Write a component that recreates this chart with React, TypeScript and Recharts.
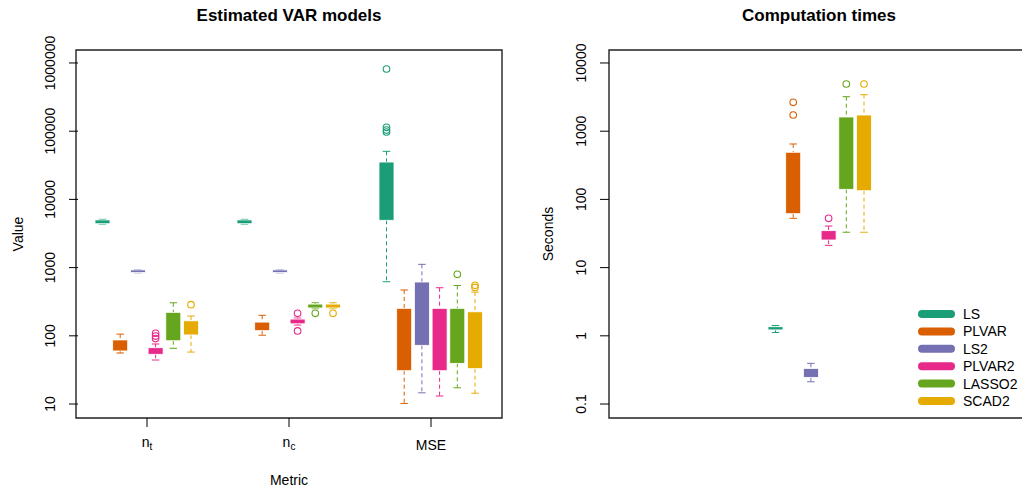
import { BarChart, Bar, XAxis, YAxis, ReferenceArea, Legend } from 'recharts';

const models = ['LS', 'PLVAR', 'LS2', 'PLVAR2', 'LASSO2', 'SCAD2'];
const colors = ['#1B9E77', '#D95F02', '#7570B3', '#E7298A', '#66A61E', '#E6AB02'];
const metrics = ['n_t', 'n_c', 'MSE'];

// [lower whisker, q1, q3, upper whisker] per metric
const lsStats = [[4350, 4400, 5000, 5100], [4350, 4400, 5000, 5100], [621, 4940, 35300, 50700]];
const plvarStats = [[56, 60, 87, 106], [102, 119, 159, 200], [10.2, 30.8, 253, 470]];
const ls2Stats = [[840, 845, 925, 930], [840, 845, 925, 930], [14.6, 72.6, 615, 1117]];
const plvar2Stats = [[44.2, 53.6, 66.9, 75.9], [144, 150, 176, 182], [13.1, 30.8, 253, 507]];
const lasso2Stats = [[65.6, 84.7, 221, 305], [250, 256, 292, 305], [17.3, 39.5, 253, 547]];
const scad2Stats = [[57.8, 103, 166, 195], [250, 256, 292, 305], [14.4, 33, 225, 438]];

const lsOut = [[], [], [816000, 114000, 104000, 97300]];
const plvarOut = [[], [], []];
const ls2Out = [[], [], []];
const plvar2Out = [[109, 99, 91], [214, 118], []];
const lasso2Out = [[], [214], [798]];
const scad2Out = [[286], [214], [550, 513]];

// computation times, one entry per model
const timeStats = [
  [1.12, 1.22, 1.36, 1.42],
  [52.8, 61.7, 491, 649],
  [0.212, 0.246, 0.333, 0.395],
  [21.2, 25.4, 34.8, 40.7],
  [33, 140.6, 1615, 3206],
  [33, 134, 1727, 3430],
];
const timeOut = [[], [2650, 1727], [], [52.8], [4920], [4920]];

const valueTicks = [10, 100, 1000, 10000, 100000, 1000000];
const timeTicks = [0.1, 1, 10, 100, 1000, 10000];
const valueDomain = [6.24, 1550000];
const timeDomain = [0.0624, 15500];

const allStats = [lsStats, plvarStats, ls2Stats, plvar2Stats, lasso2Stats, scad2Stats];
const allOut = [lsOut, plvarOut, ls2Out, plvar2Out, lasso2Out, scad2Out];

const toBox = (s: number[], out: number[]) => ({ lo: s[0], q1: s[1], q3: s[2], hi: s[3], out });

const valueRows = metrics.map((m, i) => {
  const row: any = { metric: m };
  models.forEach((name, j) => {
    row[name] = toBox(allStats[j][i], allOut[j][i]);
  });
  return row;
});

const timeRow: any = { metric: 'time' };
models.forEach((name, j) => {
  timeRow[name] = toBox(timeStats[j], timeOut[j]);
});
const timeRows = [timeRow];

const font = '"Liberation Sans", Arial, Helvetica, sans-serif';

function makeShape(name: string, color: string) {
  return (props: any) => {
    const { x, y, width, height, payload } = props;
    const s = payload[name];
    const l1 = Math.log(s.hi);
    const l0 = Math.log(s.lo);
    const py = (v: number) => y + (height * (l1 - Math.log(v))) / (l1 - l0);
    const cx = x + width / 2;
    const yq3 = py(s.q3);
    const yq1 = py(s.q1);
    const cap = width / 4;
    return (
      <g>
        <line x1={cx} x2={cx} y1={y} y2={yq3} stroke={color} strokeDasharray="4 3" />
        <line x1={cx} x2={cx} y1={yq1} y2={y + height} stroke={color} strokeDasharray="4 3" />
        <line x1={cx - cap} x2={cx + cap} y1={y} y2={y} stroke={color} />
        <line x1={cx - cap} x2={cx + cap} y1={y + height} y2={y + height} stroke={color} />
        <rect x={x} y={yq3} width={width} height={Math.max(yq1 - yq3, 1)} fill={color} stroke="#fff" strokeWidth={0.8} />
        {s.out.map((v: number, k: number) => (
          <circle key={k} cx={cx} cy={py(v)} r={3.3} fill="none" stroke={color} strokeWidth={1.1} />
        ))}
      </g>
    );
  };
}

const YTick = (props: any) => {
  const { x, y, payload } = props;
  const bx = x - 12;
  return (
    <text x={bx} y={y} transform={`rotate(-90, ${bx}, ${y})`} textAnchor="middle" fontSize={14} fill="#000" fontFamily={font}>
      {String(payload.value)}
    </text>
  );
};

const XTick = (props: any) => {
  const { x, y, payload } = props;
  const v = payload.value as string;
  if (v.startsWith('n_')) {
    return (
      <text x={x} y={y + 18} textAnchor="middle" fontSize={14} fill="#000" fontFamily={font}>
        <tspan>n</tspan>
        <tspan fontSize={10} dy={3}>{v.slice(2)}</tspan>
      </text>
    );
  }
  return (
    <text x={x} y={y + 21} textAnchor="middle" fontSize={14} fill="#000" fontFamily={font}>
      {v}
    </text>
  );
};

const renderLegend = () => (
  <svg width={120} height={110}>
    {models.map((name, i) => (
      <g key={name}>
        <line x1={4} x2={33} y1={8 + i * 17.4} y2={8 + i * 17.4} stroke={colors[i]} strokeWidth={8} strokeLinecap="round" />
        <text x={45} y={8 + i * 17.4} dy="0.36em" fontSize={14} fill="#000" fontFamily={font}>
          {name}
        </text>
      </g>
    ))}
  </svg>
);

export default function App() {
  return (
    <div style={{ position: 'absolute', left: 0, top: 0, width: 1022, height: 490, overflow: 'hidden', background: '#fff', fontFamily: font }}>
      <div style={{ position: 'absolute', left: 0, top: 0 }}>
        <BarChart width={510} height={490} data={valueRows} margin={{ top: 50, right: 11, bottom: 42, left: 0 }} barSize={15} barGap={2.7}>
          <XAxis
            dataKey="metric"
            height={30}
            axisLine={false}
            tickSize={9}
            tickLine={{ stroke: '#000' }}
            tick={<XTick />}
            interval={0}
            padding={{ left: -2, right: -3 }}
          />
          <YAxis
            scale="log"
            domain={valueDomain}
            allowDataOverflow
            ticks={valueTicks}
            width={78}
            axisLine={false}
            tickSize={9}
            tickLine={{ stroke: '#000' }}
            tick={<YTick />}
            interval={0}
          />
          {models.map((name, j) => (
            <Bar
              key={name}
              name={name}
              dataKey={(d: any) => [d[name].lo, d[name].hi]}
              fill={colors[j]}
              shape={makeShape(name, colors[j])}
              isAnimationActive={false}
            />
          ))}
          <ReferenceArea y1={valueDomain[0]} y2={valueDomain[1]} fill="none" fillOpacity={0} stroke="#222" strokeWidth={1.4} ifOverflow="visible" />
          <text x={289} y={20.5} textAnchor="middle" fontSize={17} fontWeight="bold" fill="#000" fontFamily={font}>
            Estimated VAR models
          </text>
          <text x={22.5} y={234} transform="rotate(-90, 22.5, 234)" textAnchor="middle" fontSize={14} fill="#000" fontFamily={font}>
            Value
          </text>
          <text x={289} y={485} textAnchor="middle" fontSize={14} fill="#000" fontFamily={font}>
            Metric
          </text>
        </BarChart>
      </div>
      <div style={{ position: 'absolute', left: 510, top: 0 }}>
        <BarChart width={522} height={490} data={timeRows} margin={{ top: 50, right: 2, bottom: 42, left: 0 }} barSize={15} barGap={2.7}>
          <XAxis dataKey="metric" height={30} axisLine={false} tickLine={false} tick={false} />
          <YAxis
            scale="log"
            domain={timeDomain}
            allowDataOverflow
            ticks={timeTicks}
            width={99}
            axisLine={false}
            tickSize={9}
            tickLine={{ stroke: '#000' }}
            tick={<YTick />}
            interval={0}
          />
          {models.map((name, j) => (
            <Bar
              key={name}
              name={name}
              dataKey={(d: any) => [d[name].lo, d[name].hi]}
              fill={colors[j]}
              shape={makeShape(name, colors[j])}
              isAnimationActive={false}
            />
          ))}
          <ReferenceArea y1={timeDomain[0]} y2={timeDomain[1]} fill="none" fillOpacity={0} stroke="#222" strokeWidth={1.4} ifOverflow="visible" />
          <Legend
            layout="vertical"
            align="center"
            verticalAlign="middle"
            content={renderLegend}
            wrapperStyle={{ position: 'absolute', left: 408, top: 306, width: 120, height: 110 }}
          />
          <text x={309} y={20.5} textAnchor="middle" fontSize={17} fontWeight="bold" fill="#000" fontFamily={font}>
            Computation times
          </text>
          <text x={43} y={234} transform="rotate(-90, 43, 234)" textAnchor="middle" fontSize={14} fill="#000" fontFamily={font}>
            Seconds
          </text>
        </BarChart>
      </div>
    </div>
  );
}
